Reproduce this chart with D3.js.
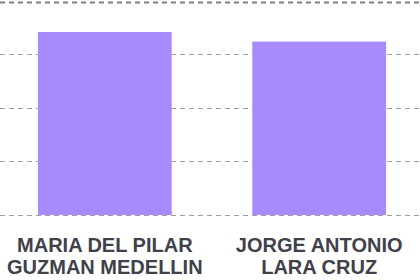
<!DOCTYPE html>
<html>
<head>
<meta charset="utf-8">
<script src="https://cdn.jsdelivr.net/npm/d3@7"></script>
<style>
  html, body { margin: 0; padding: 0; background: #fff; }
  svg { display: block; }
</style>
</head>
<body>
<div id="chart"></div>
<script>
// data
const categories = [
  ["MARIA DEL PILAR", "GUZMAN MEDELLIN"],
  ["JORGE ANTONIO", "LARA CRUZ"]
];
const values = [3.43, 3.25];
const gridTicks = [0, 1, 2, 3, 4];

const W = 420, H = 280;
const plotTop = 1.5, plotBottom = 215.5;

const svg = d3.select("#chart")
  .append("svg")
  .attr("width", W)
  .attr("height", H);

const x = d3.scaleBand()
  .domain(d3.range(categories.length))
  .range([0, 424])
  .paddingInner(0.376)
  .paddingOuter(0.177);

const y = d3.scaleLinear()
  .domain([0, 4])
  .range([plotBottom, plotTop]);

// dashed gridlines; the top one is pushed down a hair so it isn't lost at the edge
const gy = d => Math.max(Math.round(y(d)) - 0.5, 2.5);
svg.append("g")
  .attr("class", "grid")
  .selectAll("line")
  .data(gridTicks)
  .join("line")
    .attr("x1", 0)
    .attr("x2", W)
    .attr("y1", gy)
    .attr("y2", gy)
    .attr("stroke", d => d === 4 ? "#808080" : "#9e9e9e")
    .attr("stroke-width", d => d === 4 ? 2 : 1)
    .attr("stroke-dasharray", "5,4");

// bars
svg.append("g")
  .selectAll("rect")
  .data(values)
  .join("rect")
    .attr("x", (d, i) => x(i))
    .attr("y", d => y(d))
    .attr("width", x.bandwidth())
    .attr("height", d => y(0) - y(d) - 0.5)
    .attr("fill", "#a78bfa");

// category labels, two lines each
const labels = svg.append("g")
  .selectAll("text")
  .data(categories)
  .join("text")
    .attr("text-anchor", "middle")
    .attr("font-family", "'Liberation Sans', Arial, sans-serif")
    .attr("font-weight", "bold")
    .attr("font-size", 20)
    .attr("fill", "#40414a");

labels.each(function (lines, i) {
  d3.select(this).selectAll("tspan")
    .data(lines)
    .join("tspan")
      .attr("x", x(i) + x.bandwidth() / 2)
      .attr("y", (d, j) => 251.5 + j * 22)
      .text(d => d);
});
</script>
</body>
</html>
